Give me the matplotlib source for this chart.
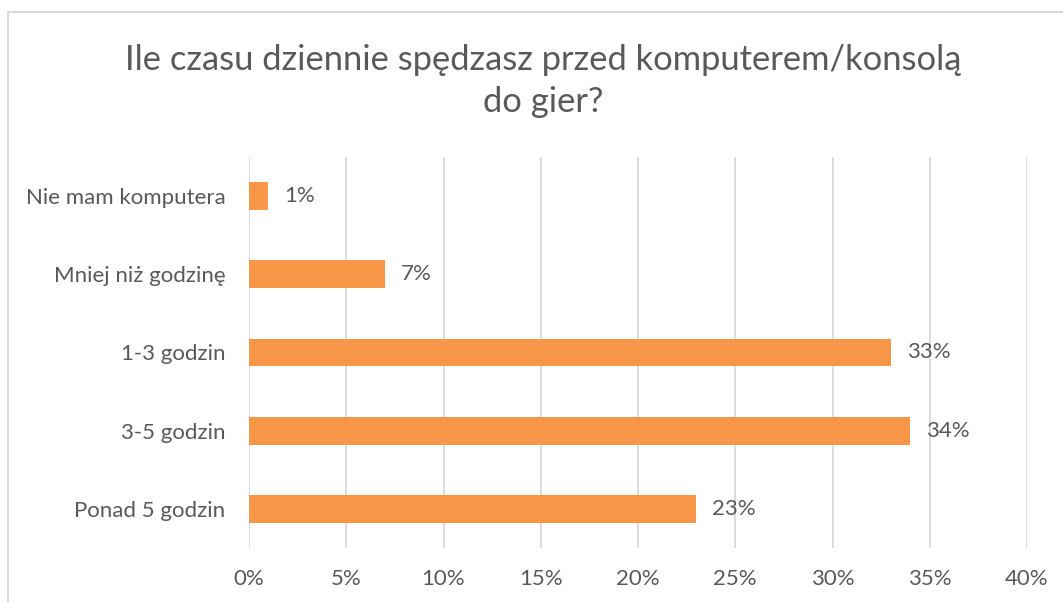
import matplotlib.pyplot as plt
from matplotlib.patches import Rectangle

plt.rcParams['font.family'] = ['Lato', 'DejaVu Sans']

categories = ['Nie mam komputera', 'Mniej niż godzinę', '1-3 godzin', '3-5 godzin', 'Ponad 5 godzin']
values = [1, 7, 33, 34, 23]
ticks = [0, 5, 10, 15, 20, 25, 30, 35, 40]
title = 'Ile czasu dziennie spędzasz przed komputerem/konsolą\ndo gier?'

W, H = 1063, 602
fig = plt.figure(figsize=(W / 100, H / 100), dpi=100)
ax = fig.add_axes([249 / W, 1 - 548 / H, (1027 - 249) / W, (548 - 157) / H])

# chart frame (right and bottom edges fall outside the picture)
fig.patches.append(Rectangle((8 / W, -0.1), 1.2, 1 - 12 / H + 0.1, transform=fig.transFigure,
                             fill=False, edgecolor='#d9d9d9', linewidth=1.5))

text_col = '#595959'
ypos = list(range(len(categories)))
bars = ax.barh(ypos, values, height=0.354, color='#f79646', zorder=3)
ax.set_ylim(len(categories) - 0.5, -0.5)
ax.set_yticks(ypos)
ax.set_yticklabels(categories)
ax.set_xlim(0, 40)
ax.set_xticks(ticks)
ax.set_xticklabels([f'{t}%' for t in ticks])
ax.grid(axis='x', color='#d9d9d9', linewidth=1.3, zorder=0)
for s in ax.spines.values():
    s.set_visible(False)
ax.tick_params(axis='both', length=0, colors=text_col, labelsize=16)
ax.tick_params(axis='y', pad=17)
ax.tick_params(axis='x', pad=15)

for b, v in zip(bars, values):
    ax.annotate(f'{v}%', (b.get_width(), b.get_y() + b.get_height() / 2), xytext=(16, 0),
                textcoords='offset pixels', va='center', ha='left', fontsize=16, color=text_col)

fig.text(543 / W, 1 - 81 / H, title, ha='center', va='center', fontsize=24.8, color=text_col,
         linespacing=1.4)

fig.savefig('out.png', dpi=100)
